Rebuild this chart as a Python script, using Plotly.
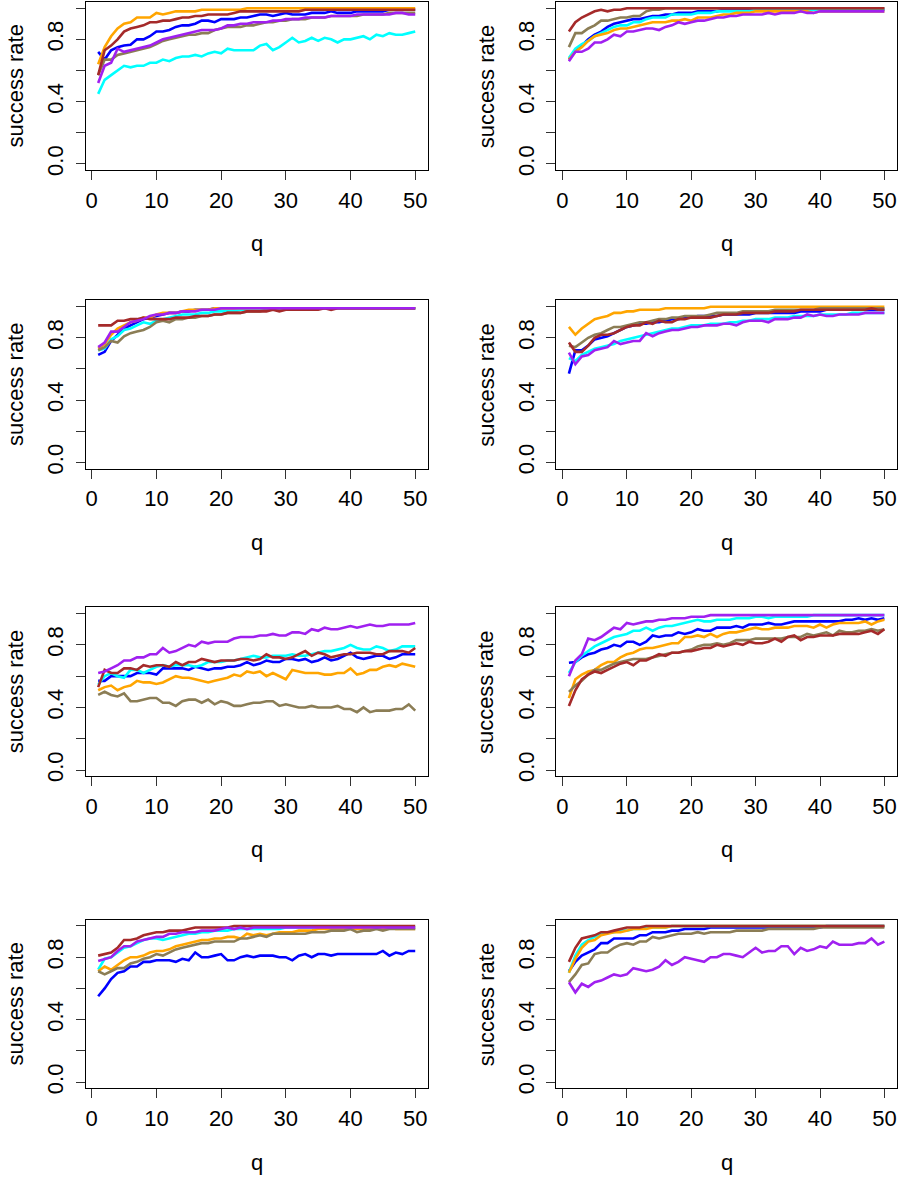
import plotly.graph_objects as go

q = list(range(1, 51))

# ---------------- Panel 1 (row 1, left) ----------------
p1_blue = [0.72,0.67,0.73,0.75,0.76,0.765,0.80,0.80,0.82,0.85, 0.85,0.86,0.88,0.89,0.89,0.90,0.92,0.92,0.91,0.93, 0.93,0.93,0.94,0.94,0.95,0.96,0.96,0.95,0.96,0.97, 0.96,0.96,0.96,0.97,0.97,0.97,0.98,0.97,0.97,0.97, 0.98,0.98,0.98,0.98,0.98,0.99,0.99,0.99,0.99,0.99]
p1_cyan = [0.45,0.54,0.57,0.60,0.63,0.62,0.63,0.63,0.65,0.65, 0.67,0.66,0.68,0.69,0.69,0.70,0.69,0.71,0.72,0.71, 0.74,0.73,0.73,0.73,0.73,0.76,0.77,0.73,0.75,0.78, 0.81,0.78,0.79,0.81,0.79,0.81,0.80,0.78,0.80,0.80, 0.81,0.82,0.80,0.83,0.82,0.84,0.83,0.83,0.84,0.85]
p1_orange = [0.64,0.75,0.82,0.87,0.90,0.91,0.94,0.94,0.94,0.97, 0.96,0.97,0.98,0.98,0.98,0.98,0.99,0.99,0.99,0.99, 0.99,0.99,0.99,1.0,1.0,1.0,1.0,1.0,1.0,1.0, 1.0,1.0,1.0,1.0,1.0,1.0,1.0,1.0,1.0,1.0, 1.0,1.0,1.0,1.0,1.0,1.0,1.0,1.0,1.0,1.0]
p1_olive = [0.57,0.67,0.67,0.70,0.71,0.72,0.73,0.74,0.75,0.77, 0.79,0.80,0.81,0.82,0.83,0.83,0.84,0.84,0.86,0.87, 0.88,0.88,0.88,0.89,0.89,0.90,0.91,0.91,0.92,0.92, 0.93,0.93,0.93,0.94,0.94,0.94,0.95,0.95,0.95,0.95, 0.95,0.96,0.96,0.96,0.96,0.97,0.97,0.97,0.97,0.97]
p1_brown = [0.57,0.73,0.76,0.80,0.85,0.87,0.88,0.89,0.91,0.91, 0.92,0.92,0.93,0.94,0.94,0.95,0.95,0.96,0.96,0.96, 0.96,0.97,0.98,0.98,0.98,0.98,0.98,0.98,0.98,0.98, 0.98,0.98,0.99,0.99,0.99,0.99,0.99,0.99,0.99,0.99, 0.99,0.99,0.99,0.99,0.99,0.99,0.99,0.99,0.99,0.99]
p1_purple = [0.52,0.63,0.65,0.74,0.72,0.73,0.74,0.75,0.76,0.78, 0.80,0.81,0.82,0.83,0.84,0.85,0.86,0.86,0.86,0.87, 0.89,0.89,0.90,0.90,0.91,0.91,0.91,0.92,0.92,0.93, 0.93,0.93,0.94,0.94,0.94,0.94,0.95,0.95,0.95,0.95, 0.96,0.96,0.96,0.96,0.96,0.96,0.97,0.97,0.96,0.96]

# ---------------- Panel 2 (row 1, right) ----------------
p2_blue = [0.67,0.73,0.76,0.80,0.83,0.85,0.88,0.90,0.91,0.92, 0.93,0.93,0.94,0.95,0.95,0.96,0.96,0.97,0.97,0.97, 0.98,0.98,0.98,0.98,0.99,0.99,0.99,0.99,0.99,0.99, 0.99,0.99,0.99,0.99,0.99,0.99,0.99,0.99,0.99,0.99, 0.99,0.99,0.99,0.99,0.99,0.99,0.99,0.99,0.99,0.99]
p2_cyan = [0.68,0.74,0.77,0.79,0.82,0.84,0.86,0.88,0.89,0.89, 0.91,0.91,0.93,0.94,0.94,0.94,0.96,0.96,0.96,0.96, 0.97,0.97,0.97,0.98,0.98,0.98,0.98,0.98,0.98,0.99, 0.99,0.99,0.99,0.99,0.99,0.99,0.99,0.99,0.99,0.99, 0.99,0.99,0.99,0.99,0.99,0.99,0.99,0.99,0.99,0.99]
p2_orange = [0.67,0.72,0.75,0.79,0.82,0.83,0.84,0.86,0.87,0.87, 0.88,0.89,0.90,0.91,0.91,0.91,0.92,0.92,0.93,0.92, 0.94,0.94,0.94,0.95,0.96,0.96,0.97,0.97,0.97,0.98, 0.98,0.98,0.98,0.98,0.98,0.98,0.98,0.98,0.97,0.98, 0.98,0.98,0.98,0.98,0.98,0.98,0.98,0.98,0.98,0.98]
p2_olive = [0.75,0.84,0.84,0.87,0.89,0.92,0.92,0.93,0.94,0.94, 0.95,0.95,0.98,0.99,0.99,1.0,1.0,1.0,1.0,1.0, 1.0,1.0,1.0,1.0,1.0,1.0,1.0,1.0,1.0,1.0, 1.0,1.0,1.0,1.0,1.0,1.0,1.0,1.0,1.0,1.0, 1.0,1.0,1.0,1.0,1.0,1.0,1.0,1.0,1.0,1.0]
p2_brown = [0.85,0.91,0.94,0.96,0.98,0.99,0.98,0.99,0.99,1.0, 1.0,1.0,1.0,1.0,1.0,1.0,1.0,1.0,1.0,1.0, 1.0,1.0,1.0,1.0,1.0,1.0,1.0,1.0,1.0,1.0, 1.0,1.0,1.0,1.0,1.0,1.0,1.0,1.0,1.0,1.0, 1.0,1.0,1.0,1.0,1.0,1.0,1.0,1.0,1.0,1.0]
p2_purple = [0.66,0.72,0.72,0.74,0.78,0.78,0.80,0.83,0.82,0.85, 0.85,0.86,0.87,0.87,0.86,0.88,0.89,0.91,0.90,0.91, 0.92,0.92,0.93,0.94,0.94,0.95,0.95,0.96,0.96,0.96, 0.96,0.97,0.96,0.97,0.97,0.97,0.98,0.97,0.97,0.98, 0.98,0.98,0.98,0.98,0.98,0.98,0.98,0.98,0.98,0.98]

# ---------------- Panel 3 (row 2, left) ----------------
p3_blue = [0.69,0.71,0.78,0.82,0.86,0.88,0.90,0.92,0.93,0.94, 0.95,0.96,0.96,0.97,0.97,0.98,0.98,0.98,0.99,0.99, 0.99,0.99,0.99,0.99,0.99,0.99,0.99,0.99,0.99,0.99, 0.99,0.99,0.99,0.99,0.99,0.99,0.99,0.99,0.99,0.99, 0.99,0.99,0.99,0.99,0.99,0.99,0.99,0.99,0.99,0.99]
p3_cyan = [0.72,0.73,0.79,0.81,0.85,0.86,0.88,0.90,0.89,0.91, 0.92,0.93,0.94,0.95,0.95,0.95,0.96,0.96,0.97,0.97, 0.97,0.97,0.98,0.98,0.98,0.98,0.98,0.98,0.98,0.99, 0.99,0.99,0.99,0.99,0.99,0.99,0.99,0.99,0.99,0.99, 0.99,0.99,0.99,0.99,0.99,0.99,0.99,0.99,0.99,0.99]
p3_orange = [0.73,0.76,0.82,0.86,0.88,0.90,0.91,0.93,0.93,0.95, 0.96,0.96,0.96,0.97,0.98,0.98,0.98,0.98,0.99,0.99, 0.99,0.99,0.99,0.99,0.99,0.99,0.99,0.99,0.99,0.99, 0.99,0.99,0.99,0.99,0.99,0.99,0.99,0.99,0.99,0.99, 0.99,0.99,0.99,0.99,0.99,0.99,0.99,0.99,0.99,0.99]
p3_olive = [0.72,0.74,0.78,0.77,0.81,0.83,0.84,0.85,0.87,0.90, 0.91,0.90,0.92,0.92,0.93,0.93,0.94,0.94,0.95,0.95, 0.96,0.96,0.96,0.97,0.97,0.97,0.98,0.98,0.98,0.98, 0.98,0.99,0.99,0.99,0.99,0.99,0.99,0.99,0.99,0.99, 0.99,0.99,0.99,0.99,0.99,0.99,0.99,0.99,0.99,0.99]
p3_brown = [0.88,0.88,0.88,0.91,0.91,0.92,0.92,0.93,0.92,0.92, 0.92,0.92,0.93,0.93,0.93,0.94,0.94,0.94,0.95,0.95, 0.96,0.96,0.96,0.97,0.97,0.97,0.97,0.98,0.97,0.98, 0.98,0.98,0.98,0.98,0.98,0.99,0.98,0.99,0.99,0.99, 0.99,0.99,0.99,0.99,0.99,0.99,0.99,0.99,0.99,0.99]
p3_purple = [0.74,0.77,0.84,0.84,0.87,0.90,0.91,0.92,0.94,0.95, 0.95,0.96,0.96,0.97,0.97,0.97,0.98,0.98,0.98,0.99, 0.99,0.99,0.99,0.99,0.99,0.99,0.99,0.99,0.99,0.99, 0.99,0.99,0.99,0.99,0.99,0.99,0.99,0.99,0.99,0.99, 0.99,0.99,0.99,0.99,0.99,0.99,0.99,0.99,0.99,0.99]

# ---------------- Panel 4 (row 2, right) ----------------
p4_blue = [0.57,0.72,0.72,0.75,0.79,0.80,0.81,0.83,0.85,0.87, 0.88,0.89,0.89,0.90,0.90,0.91,0.92,0.92,0.93,0.93, 0.94,0.94,0.94,0.94,0.95,0.95,0.95,0.95,0.95,0.96, 0.96,0.96,0.96,0.96,0.96,0.96,0.97,0.97,0.97,0.97, 0.98,0.98,0.98,0.98,0.98,0.98,0.98,0.98,0.98,0.98]
p4_cyan = [0.67,0.65,0.69,0.71,0.73,0.74,0.75,0.76,0.78,0.79, 0.80,0.81,0.82,0.83,0.84,0.85,0.86,0.86,0.87,0.88, 0.88,0.88,0.89,0.89,0.89,0.90,0.90,0.91,0.91,0.92, 0.92,0.92,0.93,0.93,0.93,0.94,0.94,0.94,0.94,0.95, 0.95,0.95,0.95,0.95,0.96,0.96,0.96,0.96,0.96,0.96]
p4_orange = [0.87,0.82,0.86,0.89,0.92,0.93,0.94,0.96,0.96,0.97, 0.97,0.98,0.98,0.98,0.98,0.99,0.99,0.99,0.99,0.99, 0.99,0.99,1.0,1.0,1.0,1.0,1.0,1.0,1.0,1.0, 1.0,1.0,1.0,1.0,1.0,1.0,1.0,1.0,1.0,1.0, 1.0,1.0,1.0,1.0,1.0,1.0,1.0,1.0,1.0,1.0]
p4_olive = [0.75,0.74,0.77,0.80,0.82,0.83,0.85,0.87,0.87,0.88, 0.89,0.90,0.90,0.91,0.92,0.92,0.93,0.93,0.94,0.94, 0.94,0.94,0.95,0.96,0.96,0.96,0.96,0.97,0.97,0.97, 0.97,0.97,0.98,0.98,0.98,0.98,0.98,0.98,0.98,0.99, 0.99,0.99,0.99,0.99,0.99,0.99,0.99,0.99,0.99,0.99]
p4_brown = [0.77,0.71,0.71,0.75,0.80,0.82,0.82,0.83,0.85,0.87, 0.88,0.88,0.90,0.89,0.91,0.90,0.90,0.92,0.92,0.93, 0.93,0.93,0.93,0.94,0.95,0.95,0.95,0.96,0.96,0.96, 0.96,0.96,0.97,0.97,0.97,0.97,0.98,0.98,0.98,0.98, 0.98,0.98,0.98,0.98,0.98,0.98,0.98,0.99,0.98,0.98]
p4_purple = [0.705,0.63,0.68,0.69,0.72,0.73,0.74,0.78,0.76,0.77, 0.78,0.78,0.83,0.81,0.83,0.84,0.85,0.85,0.86,0.87, 0.87,0.88,0.88,0.88,0.89,0.89,0.88,0.90,0.91,0.91, 0.91,0.90,0.92,0.92,0.92,0.93,0.93,0.95,0.94,0.95, 0.94,0.94,0.95,0.95,0.95,0.95,0.96,0.96,0.96,0.96]

# ---------------- Panel 5 (row 3, left) ----------------
p5_blue = [0.57,0.57,0.60,0.60,0.60,0.60,0.62,0.62,0.62,0.61, 0.65,0.65,0.65,0.65,0.64,0.66,0.65,0.64,0.65,0.65, 0.66,0.66,0.67,0.69,0.67,0.68,0.70,0.69,0.69,0.71, 0.71,0.70,0.71,0.69,0.70,0.72,0.70,0.71,0.73,0.75, 0.72,0.71,0.72,0.73,0.73,0.71,0.72,0.74,0.74,0.74]
p5_cyan = [0.545,0.60,0.62,0.60,0.59,0.64,0.64,0.62,0.64,0.66, 0.67,0.66,0.67,0.67,0.67,0.66,0.67,0.69,0.69,0.69, 0.70,0.70,0.71,0.72,0.73,0.72,0.72,0.73,0.73,0.73, 0.74,0.73,0.73,0.74,0.75,0.76,0.76,0.77,0.78,0.80, 0.78,0.77,0.77,0.79,0.78,0.76,0.77,0.79,0.79,0.79]
p5_orange = [0.51,0.53,0.54,0.51,0.53,0.54,0.57,0.56,0.56,0.55, 0.56,0.58,0.60,0.59,0.59,0.58,0.57,0.56,0.57,0.58, 0.59,0.61,0.60,0.63,0.62,0.63,0.60,0.62,0.60,0.58, 0.64,0.63,0.62,0.62,0.62,0.61,0.61,0.62,0.62,0.65, 0.61,0.62,0.64,0.64,0.66,0.67,0.66,0.68,0.67,0.66]
p5_olive = [0.48,0.50,0.48,0.47,0.49,0.44,0.44,0.45,0.46,0.46, 0.43,0.43,0.41,0.44,0.45,0.45,0.43,0.45,0.42,0.44, 0.43,0.41,0.41,0.42,0.43,0.43,0.44,0.44,0.41,0.42, 0.41,0.40,0.40,0.41,0.40,0.40,0.40,0.41,0.39,0.39, 0.37,0.40,0.37,0.38,0.38,0.38,0.39,0.39,0.42,0.38]
p5_brown = [0.53,0.64,0.62,0.62,0.65,0.65,0.64,0.67,0.66,0.67, 0.67,0.66,0.69,0.67,0.69,0.69,0.71,0.70,0.69,0.70, 0.70,0.70,0.71,0.71,0.70,0.71,0.74,0.72,0.72,0.71, 0.72,0.74,0.76,0.73,0.75,0.74,0.72,0.73,0.74,0.74, 0.75,0.75,0.75,0.74,0.74,0.76,0.76,0.76,0.75,0.78]
p5_purple = [0.62,0.63,0.65,0.67,0.70,0.70,0.72,0.72,0.74,0.74, 0.78,0.75,0.76,0.78,0.80,0.79,0.82,0.81,0.82,0.82, 0.82,0.84,0.85,0.85,0.85,0.86,0.86,0.87,0.86,0.86, 0.88,0.88,0.87,0.90,0.89,0.91,0.90,0.90,0.91,0.92, 0.91,0.92,0.93,0.92,0.92,0.93,0.93,0.93,0.93,0.94]

# ---------------- Panel 6 (row 3, right) ----------------
p6_blue = [0.686,0.69,0.72,0.74,0.75,0.77,0.78,0.80,0.79,0.82, 0.82,0.80,0.82,0.86,0.85,0.86,0.86,0.88,0.87,0.88, 0.90,0.89,0.89,0.91,0.91,0.91,0.92,0.91,0.93,0.93, 0.93,0.94,0.93,0.93,0.94,0.95,0.95,0.95,0.95,0.95, 0.95,0.95,0.95,0.96,0.96,0.97,0.96,0.97,0.96,0.97]
p6_cyan = [0.62,0.69,0.73,0.76,0.79,0.81,0.83,0.85,0.86,0.87, 0.89,0.89,0.91,0.89,0.91,0.92,0.92,0.93,0.94,0.95, 0.96,0.95,0.95,0.96,0.96,0.96,0.97,0.97,0.97,0.98, 0.98,0.97,0.98,0.98,0.98,0.98,0.98,0.98,0.99,0.99, 0.99,0.99,0.99,0.99,0.99,0.99,0.99,0.99,0.99,0.99]
p6_orange = [0.46,0.58,0.61,0.63,0.64,0.67,0.69,0.69,0.72,0.74, 0.75,0.77,0.78,0.78,0.79,0.80,0.81,0.81,0.85,0.85, 0.86,0.85,0.87,0.85,0.87,0.88,0.88,0.89,0.90,0.91, 0.90,0.90,0.91,0.91,0.91,0.92,0.92,0.92,0.91,0.93, 0.91,0.93,0.94,0.94,0.94,0.94,0.95,0.93,0.95,0.96]
p6_olive = [0.50,0.54,0.57,0.61,0.64,0.64,0.66,0.68,0.69,0.70, 0.71,0.71,0.71,0.72,0.73,0.74,0.75,0.75,0.76,0.77, 0.79,0.80,0.80,0.81,0.80,0.81,0.83,0.83,0.83,0.84, 0.84,0.84,0.84,0.84,0.85,0.85,0.85,0.87,0.86,0.87, 0.88,0.86,0.89,0.88,0.88,0.89,0.89,0.90,0.89,0.90]
p6_brown = [0.41,0.51,0.58,0.61,0.63,0.62,0.64,0.66,0.68,0.69, 0.67,0.70,0.70,0.72,0.74,0.73,0.75,0.75,0.76,0.76, 0.77,0.78,0.78,0.80,0.79,0.80,0.81,0.80,0.82,0.81, 0.81,0.82,0.84,0.82,0.85,0.86,0.83,0.85,0.85,0.86, 0.86,0.86,0.87,0.87,0.87,0.87,0.88,0.89,0.87,0.90]
p6_purple = [0.60,0.70,0.74,0.84,0.83,0.85,0.88,0.91,0.90,0.94, 0.93,0.94,0.95,0.95,0.96,0.96,0.97,0.97,0.97,0.98, 0.98,0.98,0.99,0.99,0.99,0.99,0.99,0.99,0.99,0.99, 0.99,0.99,0.99,0.99,0.99,0.99,0.99,0.99,0.99,0.99, 0.99,0.99,0.99,0.99,0.99,0.99,0.99,0.99,0.99,0.99]

# ---------------- Panel 7 (row 4, left) ----------------
p7_blue = [0.55,0.60,0.66,0.70,0.71,0.74,0.74,0.77,0.77,0.78, 0.78,0.78,0.77,0.79,0.78,0.83,0.80,0.80,0.81,0.82, 0.78,0.78,0.80,0.81,0.80,0.81,0.81,0.81,0.80,0.80, 0.78,0.81,0.82,0.80,0.82,0.82,0.81,0.82,0.82,0.82, 0.82,0.82,0.82,0.82,0.84,0.81,0.83,0.82,0.84,0.84]
p7_cyan = [0.72,0.79,0.80,0.83,0.86,0.87,0.89,0.91,0.92,0.92, 0.91,0.92,0.93,0.94,0.95,0.95,0.96,0.96,0.97,0.97, 0.97,0.98,0.98,0.98,0.98,0.98,0.98,0.98,0.98,0.99, 0.99,0.99,0.99,0.99,0.99,0.99,0.99,0.99,0.99,0.99, 0.99,0.99,0.99,0.99,0.99,0.99,0.99,0.99,0.99,0.99]
p7_orange = [0.71,0.74,0.72,0.75,0.78,0.80,0.80,0.81,0.83,0.84, 0.84,0.85,0.87,0.88,0.89,0.90,0.91,0.91,0.92,0.92, 0.93,0.93,0.92,0.95,0.94,0.95,0.94,0.95,0.96,0.96, 0.96,0.97,0.97,0.97,0.98,0.98,0.98,0.98,0.98,0.98, 0.98,0.98,0.98,0.99,0.98,0.99,0.98,0.98,0.98,0.98]
p7_olive = [0.71,0.69,0.71,0.73,0.73,0.76,0.77,0.79,0.80,0.82, 0.81,0.83,0.85,0.86,0.87,0.88,0.89,0.89,0.90,0.90, 0.90,0.90,0.92,0.92,0.93,0.94,0.93,0.95,0.95,0.95, 0.95,0.95,0.95,0.96,0.96,0.96,0.97,0.97,0.97,0.98, 0.96,0.97,0.97,0.98,0.97,0.98,0.98,0.98,0.98,0.98]
p7_brown = [0.81,0.82,0.83,0.86,0.91,0.91,0.92,0.94,0.95,0.96, 0.96,0.97,0.97,0.97,0.98,0.99,0.99,0.99,0.99,0.99, 0.99,1.0,1.0,1.0,1.0,1.0,1.0,1.0,1.0,1.0, 1.0,1.0,1.0,1.0,1.0,1.0,1.0,1.0,1.0,1.0, 1.0,1.0,1.0,1.0,1.0,1.0,1.0,1.0,1.0,1.0]
p7_purple = [0.775,0.79,0.80,0.84,0.87,0.87,0.90,0.91,0.92,0.93, 0.93,0.95,0.95,0.96,0.96,0.96,0.97,0.97,0.97,0.98, 0.99,0.98,0.99,0.98,0.99,0.99,0.99,0.99,0.99,0.99, 0.99,0.99,0.99,0.99,0.99,0.99,0.99,0.99,0.99,0.99, 0.99,0.99,0.99,0.99,0.99,0.99,0.99,0.99,0.99,0.99]

# ---------------- Panel 8 (row 4, right) ----------------
p8_blue = [0.71,0.77,0.81,0.83,0.85,0.89,0.89,0.92,0.92,0.92, 0.92,0.94,0.94,0.96,0.96,0.96,0.97,0.97,0.98,0.98, 0.98,0.98,0.99,0.99,0.99,0.99,0.99,0.99,0.99,0.99, 0.99,0.99,0.99,0.99,0.99,0.99,0.99,0.99,0.99,0.99, 1.0,1.0,1.0,1.0,1.0,1.0,1.0,1.0,1.0,1.0]
p8_cyan = [0.70,0.81,0.88,0.91,0.93,0.95,0.96,0.96,0.97,0.97, 0.98,0.98,0.99,0.99,0.99,0.99,1.0,1.0,1.0,1.0, 1.0,1.0,1.0,1.0,1.0,1.0,1.0,1.0,1.0,1.0, 1.0,1.0,1.0,1.0,1.0,1.0,1.0,1.0,1.0,1.0, 1.0,1.0,1.0,1.0,1.0,1.0,1.0,1.0,1.0,1.0]
p8_orange = [0.70,0.79,0.86,0.90,0.91,0.94,0.95,0.96,0.96,0.97, 0.98,0.98,0.98,0.99,0.99,0.99,1.0,1.0,1.0,1.0, 1.0,1.0,1.0,1.0,1.0,1.0,1.0,1.0,1.0,1.0, 1.0,1.0,1.0,1.0,1.0,1.0,1.0,1.0,1.0,1.0, 1.0,1.0,1.0,1.0,1.0,1.0,1.0,1.0,1.0,1.0]
p8_olive = [0.64,0.69,0.75,0.76,0.82,0.83,0.83,0.86,0.88,0.89, 0.88,0.90,0.90,0.93,0.92,0.93,0.94,0.95,0.95,0.95, 0.96,0.95,0.96,0.96,0.96,0.96,0.97,0.97,0.97,0.97, 0.97,0.98,0.98,0.98,0.98,0.98,0.98,0.98,0.98,0.99, 0.99,0.99,0.99,0.99,0.99,0.99,0.99,0.99,0.99,0.99]
p8_brown = [0.77,0.86,0.92,0.93,0.94,0.96,0.96,0.97,0.98,0.99, 0.99,0.99,1.0,1.0,1.0,1.0,1.0,1.0,1.0,1.0, 1.0,1.0,1.0,1.0,1.0,1.0,1.0,1.0,1.0,1.0, 1.0,1.0,1.0,1.0,1.0,1.0,1.0,1.0,1.0,1.0, 1.0,1.0,1.0,1.0,1.0,1.0,1.0,1.0,1.0,1.0]
p8_purple = [0.64,0.575,0.63,0.61,0.64,0.65,0.67,0.69,0.68,0.69, 0.73,0.72,0.71,0.72,0.74,0.78,0.75,0.77,0.80,0.79, 0.78,0.77,0.80,0.80,0.82,0.82,0.81,0.80,0.83,0.86, 0.83,0.84,0.84,0.87,0.87,0.82,0.86,0.84,0.85,0.87, 0.86,0.90,0.88,0.88,0.88,0.89,0.89,0.92,0.88,0.90]

x_ticks = [0, 10, 20, 30, 40, 50]
x_tick_labels = ["0", "10", "20", "30", "40", "50"]
y_ticks = [0.0, 0.2, 0.4, 0.6, 0.8, 1.0]
y_tick_labels = ["0.0", "", "0.4", "", "0.8", ""]
x_title = "q"
y_title = "success rate"

series_names = ["blue", "cyan", "orange", "olive", "brown", "purple"]
series_colors = ["#0000FF", "#00FFFF", "#FFA500", "#8B7D55", "#A52A2A", "#A020F0"]

panels = [
    [p1_blue, p1_cyan, p1_orange, p1_olive, p1_brown, p1_purple],
    [p2_blue, p2_cyan, p2_orange, p2_olive, p2_brown, p2_purple],
    [p3_blue, p3_cyan, p3_orange, p3_olive, p3_brown, p3_purple],
    [p4_blue, p4_cyan, p4_orange, p4_olive, p4_brown, p4_purple],
    [p5_blue, p5_cyan, p5_orange, p5_olive, p5_brown, p5_purple],
    [p6_blue, p6_cyan, p6_orange, p6_olive, p6_brown, p6_purple],
    [p7_blue, p7_cyan, p7_orange, p7_olive, p7_brown, p7_purple],
    [p8_blue, p8_cyan, p8_orange, p8_olive, p8_brown, p8_purple],
]

W, H = 898, 1178
col_px = [(85.5, 427.9), (556.3, 897.0)]
row_px = [(2.0, 171.0), (302.0, 471.0), (610.4, 780.3), (924.4, 1094.0)]
FONT = "Liberation Sans, Arial, Helvetica, sans-serif"
FS = 22

fig = go.Figure()
layout = dict(width=W, height=H, margin=dict(l=0, r=0, t=0, b=0),
              paper_bgcolor="white", plot_bgcolor="white", showlegend=False,
              font=dict(family=FONT, size=FS, color="black"))
annotations = []

for i, data in enumerate(panels):
    r, c = divmod(i, 2)
    idx = i + 1
    xa = "x" if idx == 1 else f"x{idx}"
    ya = "y" if idx == 1 else f"y{idx}"
    for name, col, vals in zip(series_names, series_colors, data):
        fig.add_trace(go.Scatter(x=q, y=vals, mode="lines", name=name,
                                 line=dict(color=col, width=2.6),
                                 xaxis=xa, yaxis=ya, hoverinfo="skip"))
    x0, x1 = col_px[c]
    y0, y1 = row_px[r]
    common = dict(showline=True, linecolor="black", linewidth=1, mirror=True,
                  ticks="outside", ticklen=9, tickwidth=1, tickcolor="#333",
                  showgrid=False, zeroline=False,
                  tickfont=dict(family=FONT, size=FS, color="black"))
    layout["xaxis" if idx == 1 else f"xaxis{idx}"] = dict(
        domain=[x0 / W, x1 / W], range=[-0.96, 51.96], anchor=ya,
        tickvals=x_ticks, ticktext=x_tick_labels, ticklabelstandoff=1, **common)
    layout["yaxis" if idx == 1 else f"yaxis{idx}"] = dict(
        domain=[1 - y1 / H, 1 - y0 / H], range=[-0.04, 1.04], anchor=xa,
        tickvals=y_ticks, ticktext=y_tick_labels, tickangle=-90,
        ticklabelstandoff=4, **common)
    annotations.append(dict(text=y_title, textangle=-90, showarrow=False,
                            xref="paper", yref="paper",
                            x=(x0 - 70) / W, y=1 - (y0 + y1) / 2 / H,
                            xanchor="center", yanchor="middle",
                            font=dict(family=FONT, size=FS, color="black")))
    annotations.append(dict(text=x_title, showarrow=False,
                            xref="paper", yref="paper",
                            x=(x0 + x1) / 2 / W, y=1 - (y1 + 74) / H,
                            xanchor="center", yanchor="middle",
                            font=dict(family=FONT, size=FS, color="black")))

layout["annotations"] = annotations
fig.update_layout(**layout)
fig.write_html("out.html", config={"displayModeBar": False},
               post_script="document.body.style.margin='0px';document.body.style.overflow='hidden';")
